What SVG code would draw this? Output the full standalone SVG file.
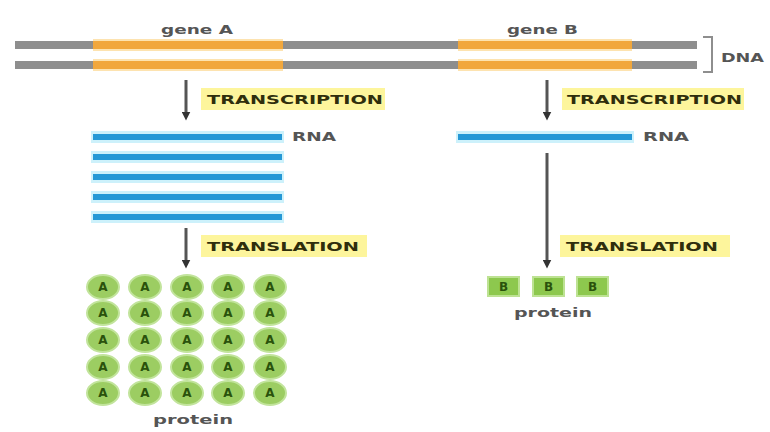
<svg xmlns="http://www.w3.org/2000/svg" width="770" height="432" viewBox="0 0 770 432">
  <style>
    .strand { fill: #8e8e8e; }
    .gene { fill: #f1a73d; }
    .gene-glow { fill: #fde3b0; }
    .rna-glow { fill: #cdf1fb; }
    .rna { fill: #2598d6; }
    .lbl { font-family: "DejaVu Sans", "Liberation Sans", sans-serif; font-weight: bold; }
    .gene-name { font-size: 13px; fill: #555555; }
    .side { font-size: 13px; fill: #555555; }
    .step-box { fill: #fdf59c; }
    .step { font-size: 13px; fill: #2f2e0c; }
    .arrow { stroke: #555555; stroke-width: 3; }
    .prot-a { fill: #9ccd62; stroke: #c2e49c; stroke-width: 2; }
    .prot-b { fill: #8dc84e; stroke: #bde293; stroke-width: 2; }
    .aa { font-size: 12px; fill: #2a520c; }
  </style>
  <defs>
    <marker id="head" viewBox="0 0 10 10" refX="5" refY="5" markerWidth="3" markerHeight="3" orient="auto">
      <path d="M0,0 L10,5 L0,10 z" fill="#333333"/>
    </marker>
  </defs>

  <rect width="770" height="432" fill="#ffffff"/>

  <!-- double-stranded DNA -->
  <g id="dna">
    <rect class="strand" x="15" y="41" width="682" height="8"/>
    <rect class="strand" x="15" y="61" width="682" height="8"/>
    <path d="M703,37 H712 V72 H703" fill="none" stroke="#8e8e8e" stroke-width="2"/>
    <text class="lbl side" x="721" y="62" textLength="43" lengthAdjust="spacingAndGlyphs">DNA</text>
  </g>

  <g id="geneA">
    <rect class="gene-glow" x="93" y="39" width="190" height="12"/>
    <rect class="gene-glow" x="93" y="59" width="190" height="12"/>
    <rect class="gene" x="93" y="41" width="190" height="8"/>
    <rect class="gene" x="93" y="61" width="190" height="8"/>
    <text class="lbl gene-name" x="161" y="34" textLength="72" lengthAdjust="spacingAndGlyphs">gene A</text>
  </g>

  <g id="geneB">
    <rect class="gene-glow" x="458" y="39" width="174" height="12"/>
    <rect class="gene-glow" x="458" y="59" width="174" height="12"/>
    <rect class="gene" x="458" y="41" width="174" height="8"/>
    <rect class="gene" x="458" y="61" width="174" height="8"/>
    <text class="lbl gene-name" x="507" y="34" textLength="71" lengthAdjust="spacingAndGlyphs">gene B</text>
  </g>

  <!-- step labels -->
  <g id="transcriptionA">
    <rect class="step-box" x="201" y="88" width="184" height="22"/>
    <text class="lbl step" x="207" y="104" textLength="176" lengthAdjust="spacingAndGlyphs">TRANSCRIPTION</text>
  </g>
  <g id="transcriptionB">
    <rect class="step-box" x="562" y="88" width="182" height="22"/>
    <text class="lbl step" x="567" y="104" textLength="175" lengthAdjust="spacingAndGlyphs">TRANSCRIPTION</text>
  </g>
  <g id="translationA">
    <rect class="step-box" x="201" y="235" width="166" height="22"/>
    <text class="lbl step" x="207" y="251" textLength="152" lengthAdjust="spacingAndGlyphs">TRANSLATION</text>
  </g>
  <g id="translationB">
    <rect class="step-box" x="560" y="235" width="170" height="22"/>
    <text class="lbl step" x="566" y="251" textLength="152" lengthAdjust="spacingAndGlyphs">TRANSLATION</text>
  </g>

  <!-- RNA copies of gene A -->
  <g id="rnaA">
    <rect class="rna-glow" x="91" y="131" width="193" height="12"/>
    <rect class="rna-glow" x="91" y="151" width="193" height="12"/>
    <rect class="rna-glow" x="91" y="171" width="193" height="12"/>
    <rect class="rna-glow" x="91" y="191" width="193" height="12"/>
    <rect class="rna-glow" x="91" y="211" width="193" height="12"/>
    <rect class="rna" x="93" y="134" width="189" height="6"/>
    <rect class="rna" x="93" y="154" width="189" height="6"/>
    <rect class="rna" x="93" y="174" width="189" height="6"/>
    <rect class="rna" x="93" y="194" width="189" height="6"/>
    <rect class="rna" x="93" y="214" width="189" height="6"/>
    <text class="lbl side" x="292" y="141" textLength="44" lengthAdjust="spacingAndGlyphs">RNA</text>
  </g>

  <!-- RNA copy of gene B -->
  <g id="rnaB">
    <rect class="rna-glow" x="456" y="131" width="178" height="12"/>
    <rect class="rna" x="458" y="134" width="174" height="6"/>
    <text class="lbl side" x="643" y="141" textLength="46" lengthAdjust="spacingAndGlyphs">RNA</text>
  </g>

  <!-- protein A -->
  <g id="proteinA">
    <g class="lbl aa" text-anchor="middle">
      <ellipse class="prot-a" cx="103" cy="287" rx="16" ry="12"/>
      <ellipse class="prot-a" cx="145" cy="287" rx="16" ry="12"/>
      <ellipse class="prot-a" cx="187" cy="287" rx="16" ry="12"/>
      <ellipse class="prot-a" cx="228" cy="287" rx="16" ry="12"/>
      <ellipse class="prot-a" cx="270" cy="287" rx="16" ry="12"/>
      <ellipse class="prot-a" cx="103" cy="313" rx="16" ry="12"/>
      <ellipse class="prot-a" cx="145" cy="313" rx="16" ry="12"/>
      <ellipse class="prot-a" cx="187" cy="313" rx="16" ry="12"/>
      <ellipse class="prot-a" cx="228" cy="313" rx="16" ry="12"/>
      <ellipse class="prot-a" cx="270" cy="313" rx="16" ry="12"/>
      <ellipse class="prot-a" cx="103" cy="340" rx="16" ry="12"/>
      <ellipse class="prot-a" cx="145" cy="340" rx="16" ry="12"/>
      <ellipse class="prot-a" cx="187" cy="340" rx="16" ry="12"/>
      <ellipse class="prot-a" cx="228" cy="340" rx="16" ry="12"/>
      <ellipse class="prot-a" cx="270" cy="340" rx="16" ry="12"/>
      <ellipse class="prot-a" cx="103" cy="367" rx="16" ry="12"/>
      <ellipse class="prot-a" cx="145" cy="367" rx="16" ry="12"/>
      <ellipse class="prot-a" cx="187" cy="367" rx="16" ry="12"/>
      <ellipse class="prot-a" cx="228" cy="367" rx="16" ry="12"/>
      <ellipse class="prot-a" cx="270" cy="367" rx="16" ry="12"/>
      <ellipse class="prot-a" cx="103" cy="393" rx="16" ry="12"/>
      <ellipse class="prot-a" cx="145" cy="393" rx="16" ry="12"/>
      <ellipse class="prot-a" cx="187" cy="393" rx="16" ry="12"/>
      <ellipse class="prot-a" cx="228" cy="393" rx="16" ry="12"/>
      <ellipse class="prot-a" cx="270" cy="393" rx="16" ry="12"/>
      <text x="103" y="291">A</text><text x="145" y="291">A</text><text x="187" y="291">A</text><text x="228" y="291">A</text><text x="270" y="291">A</text>
      <text x="103" y="317">A</text><text x="145" y="317">A</text><text x="187" y="317">A</text><text x="228" y="317">A</text><text x="270" y="317">A</text>
      <text x="103" y="344">A</text><text x="145" y="344">A</text><text x="187" y="344">A</text><text x="228" y="344">A</text><text x="270" y="344">A</text>
      <text x="103" y="371">A</text><text x="145" y="371">A</text><text x="187" y="371">A</text><text x="228" y="371">A</text><text x="270" y="371">A</text>
      <text x="103" y="397">A</text><text x="145" y="397">A</text><text x="187" y="397">A</text><text x="228" y="397">A</text><text x="270" y="397">A</text>
    </g>
    <text class="lbl side" x="193" y="424" text-anchor="middle" textLength="80" lengthAdjust="spacingAndGlyphs">protein</text>
  </g>

  <!-- protein B -->
  <g id="proteinB">
    <rect class="prot-b" x="488" y="277" width="31" height="19"/>
    <rect class="prot-b" x="533" y="277" width="31" height="19"/>
    <rect class="prot-b" x="577" y="277" width="31" height="19"/>
    <g class="lbl aa" text-anchor="middle">
      <text x="503.5" y="291">B</text>
      <text x="548.5" y="291">B</text>
      <text x="592.5" y="291">B</text>
    </g>
    <text class="lbl side" x="553" y="317" text-anchor="middle" textLength="78" lengthAdjust="spacingAndGlyphs">protein</text>
  </g>

  <!-- process arrows -->
  <g id="connectors">
    <line class="arrow" x1="186" y1="80" x2="186" y2="116" marker-end="url(#head)"/>
    <line class="arrow" x1="547" y1="80" x2="547" y2="116" marker-end="url(#head)"/>
    <line class="arrow" x1="186" y1="228" x2="186" y2="264" marker-end="url(#head)"/>
    <line class="arrow" x1="547" y1="153" x2="547" y2="264" marker-end="url(#head)"/>
  </g>
</svg>
